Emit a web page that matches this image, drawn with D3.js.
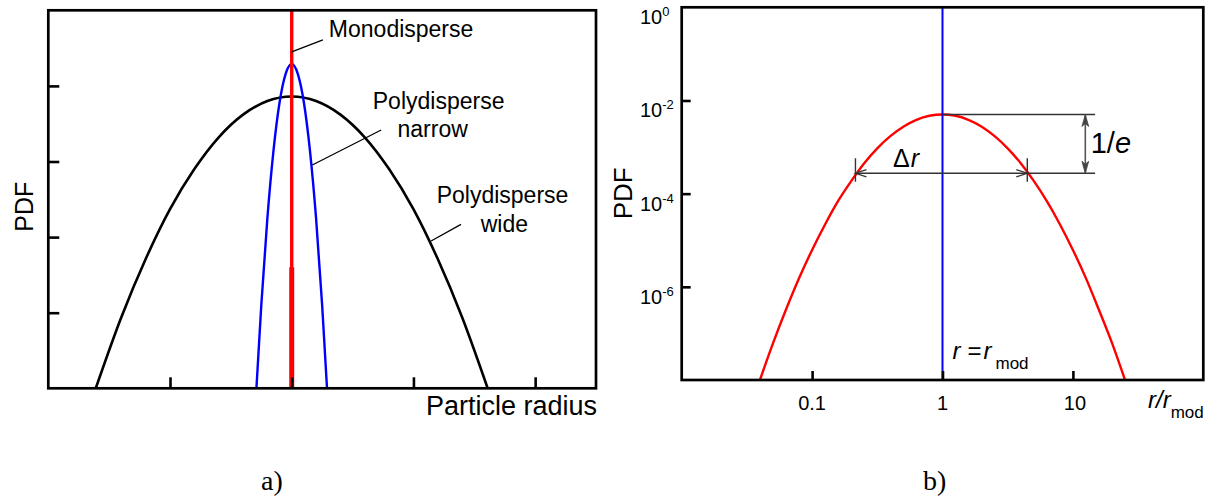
<!DOCTYPE html>
<html>
<head>
<meta charset="utf-8">
<script src="https://cdn.jsdelivr.net/npm/d3@7"></script>
<style>
  html, body { margin: 0; padding: 0; background: #fff; }
  svg { display: block; font-family: "Liberation Sans", Arial, sans-serif; }
</style>
</head>
<body>
<svg id="fig" width="1213" height="502"></svg>
<script>
// ---------- Panel a: schematic size distributions (linear, arbitrary units) ----------
const radiusTicks = [1, 2, 3, 4];
const pdfTicksLin = [1, 2, 3, 4];
const monoRadius = 2.0;
const monoTop = 5.0;
const wideRadius = [0.39, 0.6, 0.8, 1.0, 1.2, 1.4, 1.6, 1.8, 2.0, 2.2, 2.4, 2.6, 2.8, 3.0, 3.2, 3.4, 3.61];
const widePdf    = [0.00, 0.94, 1.71, 2.37, 2.90, 3.32, 3.62, 3.80, 3.86, 3.80, 3.62, 3.32, 2.90, 2.37, 1.71, 0.94, 0.00];
const narrowRadius = [1.71, 1.75, 1.80, 1.85, 1.90, 1.95, 2.00, 2.05, 2.10, 2.15, 2.20, 2.25, 2.29];
const narrowPdf    = [0.00, 1.10, 2.25, 3.14, 3.78, 4.16, 4.29, 4.16, 3.78, 3.14, 2.25, 1.10, 0.00];

// ---------- Panel b: log-normal distribution on log-log axes ----------
const ratioTicks = [0.1, 1, 10];
const ratioTickLabels = ["0.1", "1", "10"];
const pdfTicksLog = [1, 1e-2, 1e-4, 1e-6];
const pdfTickExp = ["0", "-2", "-4", "-6"];
const ratio = [0.0398, 0.0501, 0.0631, 0.0794, 0.1, 0.126, 0.158, 0.2, 0.251, 0.316, 0.398, 0.501, 0.631, 0.794,
               1.0, 1.26, 1.58, 2.0, 2.51, 3.16, 3.98, 5.01, 6.31, 7.94, 10, 12.6, 15.8, 20, 25.1];
const pdfLog = [1.0e-8, 6.1e-8, 3.25e-7, 1.52e-6, 6.2e-6, 2.21e-5, 6.9e-5, 1.88e-4, 4.5e-4, 9.4e-4, 1.72e-3, 2.74e-3, 3.84e-3, 4.69e-3,
                5.0e-3, 4.69e-3, 3.84e-3, 2.74e-3, 1.72e-3, 9.4e-4, 4.5e-4, 1.88e-4, 6.9e-5, 2.21e-5, 6.2e-6, 1.52e-6, 3.25e-7, 6.1e-8, 1.0e-8];
const modeRatio = 1, modePdf = 5.0e-3;
const widthLo = 0.215, widthHi = 4.47, widthPdf = 2.74e-4;
const guideEnd = 14.8, arrowAt = 12.45;

const svg = d3.select("#fig");
svg.append("rect").attr("width", 1213).attr("height", 502).attr("fill", "#fff");

function stripDomain(g) { g.select(".domain").remove(); }

// =============== Panel a ===============
const xA = d3.scaleLinear().domain([0, 4.5]).range([48.3, 596]);
const yA = d3.scaleLinear().domain([0, 5]).range([388.3, 10.3]);
const gA = svg.append("g");

const lineA = d3.line().x(d => xA(d[0])).y(d => yA(d[1])).curve(d3.curveMonotoneX);

gA.append("path")
  .attr("d", lineA(d3.zip(wideRadius, widePdf)))
  .attr("fill", "none").attr("stroke", "#000").attr("stroke-width", 2.6);

gA.append("path")
  .attr("d", lineA(d3.zip(narrowRadius, narrowPdf)))
  .attr("fill", "none").attr("stroke", "#0000ff").attr("stroke-width", 2.4);

// monodisperse delta spike
gA.append("line")
  .attr("x1", xA(monoRadius)).attr("x2", xA(monoRadius))
  .attr("y1", yA(0)).attr("y2", yA(monoTop))
  .attr("stroke", "#ff0000").attr("stroke-width", 3.4);
gA.append("line")
  .attr("x1", xA(monoRadius)).attr("x2", xA(monoRadius))
  .attr("y1", yA(0)).attr("y2", yA(1.6))
  .attr("stroke", "#ff0000").attr("stroke-width", 5);

// inward ticks
gA.append("g").attr("transform", `translate(0,${yA(0)})`)
  .call(d3.axisBottom(xA).tickValues(radiusTicks).tickSize(-11).tickFormat(""))
  .call(stripDomain)
  .selectAll("line").attr("stroke", "#000").attr("stroke-width", 2.6);
gA.append("g").attr("transform", `translate(${xA(0)},0)`)
  .call(d3.axisLeft(yA).tickValues(pdfTicksLin).tickSize(-11).tickFormat(""))
  .call(stripDomain)
  .selectAll("line").attr("stroke", "#000").attr("stroke-width", 2.6);

gA.append("rect")
  .attr("x", xA(0)).attr("y", yA(5))
  .attr("width", xA(4.5) - xA(0)).attr("height", yA(0) - yA(5))
  .attr("fill", "none").attr("stroke", "#000").attr("stroke-width", 2.7);

// labels with leader lines
const leaderA = [
  [[2.0, 4.45], [2.256, 4.61]],
  [[2.169, 2.954], [2.735, 3.417]],
  [[3.145, 1.948], [3.391, 2.169]]
];
leaderA.forEach(s => {
  gA.append("line")
    .attr("x1", xA(s[0][0])).attr("y1", yA(s[0][1]))
    .attr("x2", xA(s[1][0])).attr("y2", yA(s[1][1]))
    .attr("stroke", "#000").attr("stroke-width", 1.3);
});
const labelA = [
  { t: "Monodisperse", x: 2.305, y: 4.65, a: "start" },
  { t: "Polydisperse", x: 2.666, y: 3.70, a: "start" },
  { t: "narrow",       x: 3.158, y: 3.32, a: "middle" },
  { t: "Polydisperse", x: 3.191, y: 2.447, a: "start" },
  { t: "wide",         x: 3.747, y: 2.071, a: "middle" }
];
labelA.forEach(l => {
  gA.append("text").attr("x", xA(l.x)).attr("y", yA(l.y))
    .attr("text-anchor", l.a).attr("font-size", 23).attr("fill", "#000").text(l.t);
});
gA.append("text").attr("x", xA(4.5) + 1).attr("y", 415)
  .attr("text-anchor", "end").attr("font-size", 27).text("Particle radius");
gA.append("text").attr("transform", `translate(33,${(yA(0) + yA(5)) / 2 + 7.4}) rotate(-90)`)
  .attr("text-anchor", "middle").attr("font-size", 25).text("PDF");

// =============== Panel b ===============
const xB = d3.scaleLog().domain([0.01, 100]).range([681.7, 1203.3]);
const yB = d3.scaleLog().domain([1e-8, 1]).range([380, 7.3]);
const gB = svg.append("g");

gB.append("path")
  .attr("d", d3.line().x(d => xB(d[0])).y(d => yB(d[1])).curve(d3.curveMonotoneX)(d3.zip(ratio, pdfLog)))
  .attr("fill", "none").attr("stroke", "#ff0000").attr("stroke-width", 2.4);

gB.append("line")
  .attr("x1", xB(modeRatio)).attr("x2", xB(modeRatio))
  .attr("y1", yB(1e-8)).attr("y2", yB(1))
  .attr("stroke", "#0000ff").attr("stroke-width", 2);

gB.append("g").attr("transform", `translate(0,${yB(1e-8)})`)
  .call(d3.axisBottom(xB).tickValues(ratioTicks).tickSize(-9).tickFormat(""))
  .call(stripDomain)
  .selectAll("line").attr("stroke", "#000").attr("stroke-width", 2.6);
gB.append("g").attr("transform", `translate(${xB(0.01)},0)`)
  .call(d3.axisLeft(yB).tickValues(pdfTicksLog.slice(1)).tickSize(-9).tickFormat(""))
  .call(stripDomain)
  .selectAll("line").attr("stroke", "#000").attr("stroke-width", 2.6);

gB.append("rect")
  .attr("x", xB(0.01)).attr("y", yB(1))
  .attr("width", xB(100) - xB(0.01)).attr("height", yB(1e-8) - yB(1))
  .attr("fill", "none").attr("stroke", "#000").attr("stroke-width", 2.7);

// tick labels
ratioTicks.forEach((v, i) => {
  gB.append("text").attr("x", xB(v) + (i === 2 ? 2 : 0)).attr("y", 410)
    .attr("text-anchor", "middle").attr("font-size", 20).text(ratioTickLabels[i]);
});
pdfTicksLog.forEach((v, i) => {
  const t = gB.append("text").attr("x", 640).attr("y", yB(v) + 17).attr("font-size", 20);
  t.append("tspan").text("10");
  t.append("tspan").attr("font-size", 13).attr("dy", -8).text(pdfTickExp[i]);
});

// axis titles
gB.append("text").attr("transform", `translate(631.5,193.3) rotate(-90)`)
  .attr("text-anchor", "middle").attr("font-size", 26).text("PDF");
const ax = gB.append("text").attr("x", 1148).attr("y", 408).attr("font-size", 24);
ax.append("tspan").attr("font-style", "italic").text("r/r");
ax.append("tspan").attr("font-size", 17).attr("dy", 10).text("mod");

// width / height construction
const ink = "#333";
const yTop = yB(modePdf), yW = yB(widthPdf);
const xL = xB(widthLo), xR = xB(widthHi), xE = xB(guideEnd), xV = xB(arrowAt);
gB.append("line").attr("x1", xB(modeRatio)).attr("x2", xE).attr("y1", yTop).attr("y2", yTop)
  .attr("stroke", ink).attr("stroke-width", 1.4);
gB.append("line").attr("x1", xL).attr("x2", xE).attr("y1", yW).attr("y2", yW)
  .attr("stroke", ink).attr("stroke-width", 1.4);
[xL, xR].forEach(x => {
  gB.append("line").attr("x1", x).attr("x2", x).attr("y1", yW - 15).attr("y2", yW + 8.5)
    .attr("stroke", ink).attr("stroke-width", 1.4);
});
gB.append("path").attr("d", `M${xL + 11},${yW - 3.6}L${xL},${yW}L${xL + 11},${yW + 3.6}`)
  .attr("fill", "none").attr("stroke", ink).attr("stroke-width", 1.3);
gB.append("path").attr("d", `M${xR - 11},${yW - 3.6}L${xR},${yW}L${xR - 11},${yW + 3.6}`)
  .attr("fill", "none").attr("stroke", ink).attr("stroke-width", 1.3);
gB.append("line").attr("x1", xV).attr("x2", xV).attr("y1", yTop).attr("y2", yW)
  .attr("stroke", "#555").attr("stroke-width", 1.6);
gB.append("path").attr("d", `M${xV},${yTop}L${xV - 3.4},${yTop + 12}L${xV},${yTop + 9}L${xV + 3.4},${yTop + 12}Z`)
  .attr("fill", "#444").attr("stroke", "#444").attr("stroke-width", 0.8);
gB.append("path").attr("d", `M${xV},${yW}L${xV - 3.4},${yW - 12}L${xV},${yW - 9}L${xV + 3.4},${yW - 12}Z`)
  .attr("fill", "#444").attr("stroke", "#444").attr("stroke-width", 0.8);

const dr = gB.append("text").attr("x", 893).attr("y", 167).attr("font-size", 25);
dr.append("tspan").text("\u0394");
dr.append("tspan").attr("dx", 1).attr("font-style", "italic").text("r");

const ie = gB.append("text").attr("x", 1090.7).attr("y", 152.7).attr("font-size", 29);
ie.append("tspan").text("1/");
ie.append("tspan").attr("font-style", "italic").text("e");

const xm = xB(modeRatio);
gB.append("text").attr("x", xm + 10).attr("y", 359).attr("font-size", 24).attr("font-style", "italic").text("r");
gB.append("text").attr("x", xm + 25).attr("y", 359).attr("font-size", 24).text("=");
gB.append("text").attr("x", xm + 41).attr("y", 359).attr("font-size", 24).attr("font-style", "italic").text("r");
gB.append("text").attr("x", xm + 53).attr("y", 369).attr("font-size", 17).text("mod");

// panel captions
svg.append("text").attr("x", 261).attr("y", 490)
  .attr("font-family", "'Liberation Serif', 'Times New Roman', serif").attr("font-size", 28).text("a)");
svg.append("text").attr("x", 923).attr("y", 490)
  .attr("font-family", "'Liberation Serif', 'Times New Roman', serif").attr("font-size", 28).text("b)");
</script>
</body>
</html>
